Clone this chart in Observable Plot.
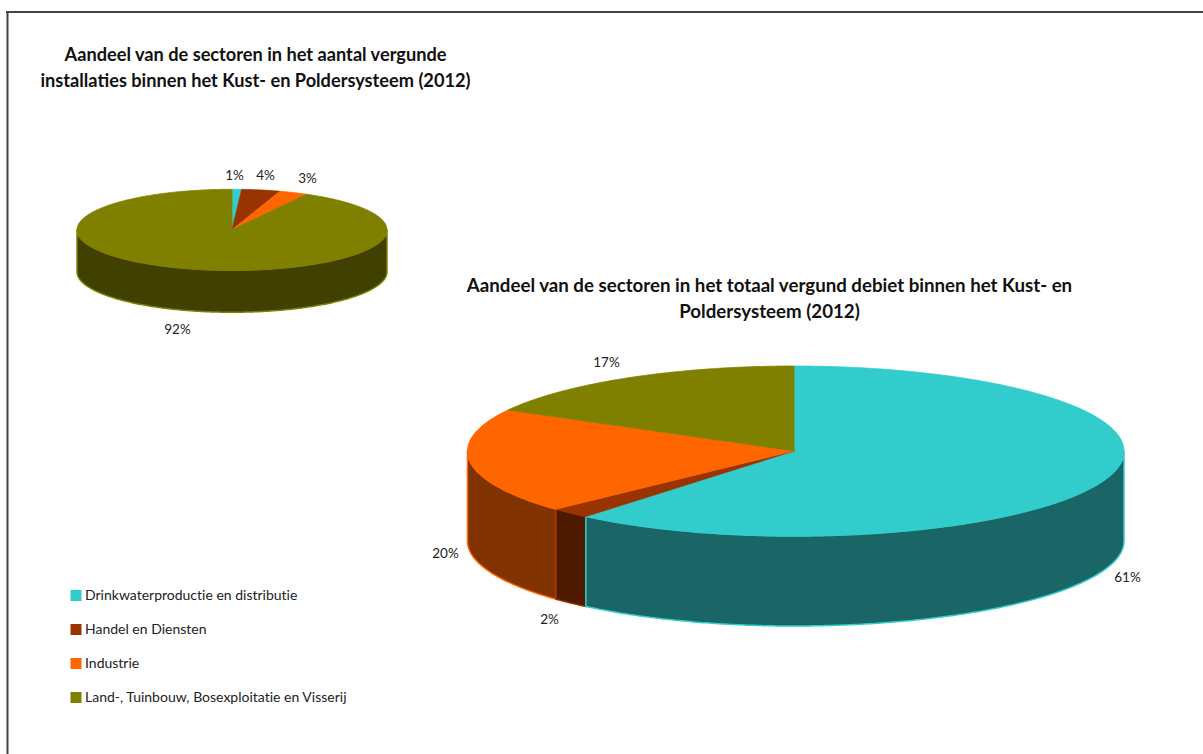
<!DOCTYPE html>
<html lang="nl">
<head>
<meta charset="utf-8">
<title>Aandeel van de sectoren (2012)</title>
<script src="https://cdn.jsdelivr.net/npm/d3@7"></script>
<script src="https://cdn.jsdelivr.net/npm/@observablehq/plot@0.6"></script>
<style>
  html, body { margin: 0; padding: 0; background: #fff; }
  svg { display: block; }
  .legend-label { font-variant-ligatures: none; }
</style>
</head>
<body>
<script>
// Sectors and their shares (percent) in both pies
const sectors = [
  "Drinkwaterproductie en distributie",
  "Handel en Diensten",
  "Industrie",
  "Land-, Tuinbouw, Bosexploitatie en Visserij"
];
const installatieShares = [1, 4, 3, 92];
const debietShares = [61, 2, 20, 17];

// Top faces and the darker side walls
const topColors = ["#33cccc", "#993300", "#ff6600", "#808000"];
const sideColors = ["#1a6666", "#4d1a00", "#803300", "#404000"];

const installatieTitle = [
  "Aandeel van de sectoren in het aantal vergunde",
  "installaties binnen het Kust- en Poldersysteem (2012)"
];
const debietTitle = [
  "Aandeel van de sectoren in het totaal vergund debiet binnen het Kust- en",
  "Poldersysteem (2012)"
];

// Placement of each tilted pie on the page; the perspective makes the large
// disc slightly wider to the right of its hub than to the left
const installatieDisc = {id: "installaties", cx: 231.5, cy: 229.25, rxLeft: 155, rxRight: 155, ry: 40.5, depth: 42,
  labels: [[234, 175], [265, 175], [307, 178], [177, 329]]};
const debietDisc = {id: "debiet", cx: 793.5, cy: 450.5, rxLeft: 326.5, rxRight: 330, ry: 85, depth: 90,
  labels: [[1127, 577], [549, 619], [445, 553], [606, 362]]};

const pieLayout = d3.pie().sort(null).value(d => d).startAngle(0).endAngle(2 * Math.PI);

// Point on the tilted rim for a clockwise angle measured from the top
const rim = (disc, a, drop = 0) => {
  const s = Math.sin(a);
  return {
    x: disc.cx + (s < 0 ? disc.rxLeft : disc.rxRight) * s,
    y: disc.cy - disc.ry * Math.cos(a) + drop
  };
};
const arcPoints = (disc, a0, a1, drop = 0) => {
  const n = Math.max(2, Math.ceil(Math.abs(a1 - a0) / 0.01));
  return d3.range(n + 1).map(i => rim(disc, a0 + (a1 - a0) * i / n, drop));
};

function discFaces(disc, shares) {
  const arcs = pieLayout(shares);
  const tops = [], sides = [];
  arcs.forEach((arc, i) => {
    const id = `${disc.id}-${i}`;
    const base = {sector: sectors[i], shade: sideColors[i]};
    const hub = {x: disc.cx, y: disc.cy};
    [hub, ...arcPoints(disc, arc.startAngle, arc.endAngle), hub]
      .forEach(p => tops.push({...p, ...base, id}));
    // Only the front half of the rim (between 90° and 270°) shows a wall
    const a0 = Math.max(arc.startAngle, Math.PI / 2);
    const a1 = Math.min(arc.endAngle, 3 * Math.PI / 2);
    if (a1 > a0) {
      const upper = arcPoints(disc, a0, a1);
      const lower = arcPoints(disc, a1, a0, disc.depth);
      // Walls are painted last-sector first so each edge keeps the clockwise-earlier colour
      sides.unshift(...[...upper, ...lower, upper[0]].map(p => ({...p, ...base, id})));
    }
  });
  return {tops, sides};
}

const installatieFaces = discFaces(installatieDisc, installatieShares);
const debietFaces = discFaces(debietDisc, debietShares);

const percentLabels = (disc, shares) =>
  shares.map((v, i) => ({x: disc.labels[i][0], y: disc.labels[i][1], text: `${v}%`}));

const titleRows = (lines, x, y0) => lines.map((text, i) => ({text, x, y: y0 + i * 26}));

const legendRows = sectors.map((sector, i) => ({sector, y: 595 + i * 34}));

const faceMarks = ({tops, sides}) => [
  Plot.line(sides, {x: "x", y: "y", z: "id", fill: {value: "shade", scale: null},
    stroke: "sector", strokeWidth: 1.5, curve: "linear"}),
  Plot.line(tops, {x: "x", y: "y", z: "id", fill: "sector", stroke: "sector",
    strokeWidth: 0.75, curve: "linear"})
];

const chart = Plot.plot({
  width: 1203,
  height: 754,
  margin: 0,
  x: {domain: [0, 1203], range: [0, 1203], axis: null},
  y: {domain: [0, 754], range: [0, 754], axis: null},
  color: {domain: sectors, range: topColors},
  style: {fontFamily: "Lato, sans-serif", background: "#fff"},
  marks: [
    // Outer chart frame
    Plot.ruleY([11.5], {x1: 6, x2: 1203, stroke: "#444", strokeWidth: 2}),
    Plot.ruleX([7], {y1: 11, y2: 754, stroke: "#444", strokeWidth: 2}),

    ...faceMarks(installatieFaces),
    ...faceMarks(debietFaces),

    Plot.text(titleRows(installatieTitle, 255, 55), {x: "x", y: "y", text: "text",
      fontSize: 18.2, fontWeight: 700, fill: "#111"}),
    Plot.text(titleRows(debietTitle, 769, 286), {x: "x", y: "y", text: "text",
      fontSize: 18.7, fontWeight: 700, fill: "#111"}),

    Plot.text([...percentLabels(installatieDisc, installatieShares), ...percentLabels(debietDisc, debietShares)],
      {x: "x", y: "y", text: "text", fontSize: 13.5, fill: "#222"}),

    // Legend
    Plot.dot(legendRows, {x: () => 75.5, y: "y", fill: "sector", symbol: "square", r: 6.2}),
    Plot.text(legendRows, {x: () => 84.5, y: "y", text: "sector", textAnchor: "start",
      fontSize: 14, fill: "#222", className: "legend-label"})
  ]
});

document.body.append(chart);
</script>
</body>
</html>
